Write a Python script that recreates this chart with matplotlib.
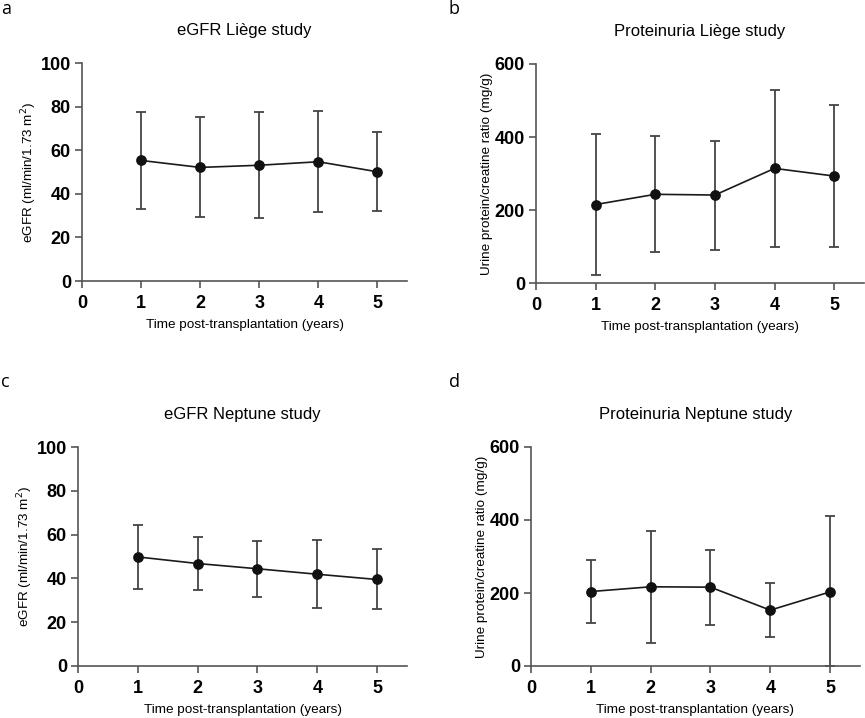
import matplotlib
matplotlib.use("Agg")
import matplotlib.pyplot as plt
import numpy as np

plt.rcParams["font.family"] = ["Liberation Sans", "DejaVu Sans"]

years = [1, 2, 3, 4, 5]

# eGFR Liège
egfr_liege = [55.3, 52.1, 53.1, 54.7, 50.1]
egfr_liege_lo = [33.2, 29.2, 28.8, 31.7, 32.3]
egfr_liege_hi = [77.3, 75.2, 77.5, 77.9, 68.3]

# Proteinuria Liège
prot_liege = [215, 243, 241, 314, 293]
prot_liege_lo = [22, 84, 91, 100, 100]
prot_liege_hi = [407, 402, 390, 529, 487]

# eGFR Neptune
egfr_nep = [49.8, 46.8, 44.4, 41.9, 39.5]
egfr_nep_lo = [35.2, 34.6, 31.6, 26.4, 25.8]
egfr_nep_hi = [64.6, 59.0, 57.3, 57.5, 53.2]

# Proteinuria Neptune
prot_nep = [204, 217, 216, 153, 203]
prot_nep_lo = [118, 63, 112, 80, 0]
prot_nep_hi = [290, 370, 319, 228, 412]

egfr_ticks = [0, 20, 40, 60, 80, 100]
prot_ticks = [0, 200, 400, 600]
x_ticks = [0, 1, 2, 3, 4, 5]

W, H = 865, 718
fig = plt.figure(figsize=(W / 100, H / 100), dpi=100)

AXIS_C = "#555555"
LINE_C = "#1a1a1a"
ERR_C = "#444444"


def make_axes(left, top, right, bottom):
    return fig.add_axes([left / W, 1 - bottom / H, (right - left) / W, (bottom - top) / H])


def panel(ax, mean, lo, hi, yticks, title, ylabel):
    mean = np.array(mean)
    yerr = [mean - np.array(lo), np.array(hi) - mean]
    ax.errorbar(years, mean, yerr=yerr, fmt="none", ecolor=ERR_C, elinewidth=1.3,
                capsize=3.5, capthick=1.3, zorder=2)
    ax.plot(years, mean, color=LINE_C, lw=1.2, marker="o", ms=6.7,
            markerfacecolor="#111111", markeredgecolor="#111111", zorder=3)
    ax.set_xlim(0, 5.5)
    ax.set_ylim(yticks[0], yticks[-1])
    ax.set_xticks(x_ticks)
    ax.set_yticks(yticks)
    for s in ["top", "right"]:
        ax.spines[s].set_visible(False)
    for s in ["left", "bottom"]:
        ax.spines[s].set_color(AXIS_C)
        ax.spines[s].set_linewidth(1.2)
    ax.tick_params(direction="out", length=5, width=1.2, color=AXIS_C,
                   labelsize=13, pad=3)
    ax.tick_params(axis="x", pad=5)
    for lab in ax.get_xticklabels() + ax.get_yticklabels():
        lab.set_fontweight("bold")
    ax.set_title(title, fontsize=12, pad=20)
    ax.set_xlabel("Time post-transplantation (years)", fontsize=9.7, labelpad=5)
    ax.set_ylabel(ylabel, fontsize=9.7, labelpad=1)


egfr_label = r"eGFR (ml/min/1.73 m$^{2}$)"
prot_label = "Urine protein/creatine ratio (mg/g)"

ax_a = make_axes(82, 63, 407, 281)
panel(ax_a, egfr_liege, egfr_liege_lo, egfr_liege_hi, egfr_ticks, "eGFR Liège study", egfr_label)

ax_b = make_axes(536, 64, 864, 283)
panel(ax_b, prot_liege, prot_liege_lo, prot_liege_hi, prot_ticks, "Proteinuria Liège study", prot_label)

ax_c = make_axes(78, 447, 407, 666)
panel(ax_c, egfr_nep, egfr_nep_lo, egfr_nep_hi, egfr_ticks, "eGFR Neptune study", egfr_label)

ax_d = make_axes(531, 447, 860, 666)
panel(ax_d, prot_nep, prot_nep_lo, prot_nep_hi, prot_ticks, "Proteinuria Neptune study", prot_label)

for letter, (px, py) in zip("abcd", [(1, 9), (449, 9), (1, 382), (449, 382)]):
    fig.text(px / W, 1 - py / H, letter, fontsize=13, va="center", ha="left",
             family=["Open Sans", "DejaVu Sans"])

fig.savefig("out.png", dpi=100)
